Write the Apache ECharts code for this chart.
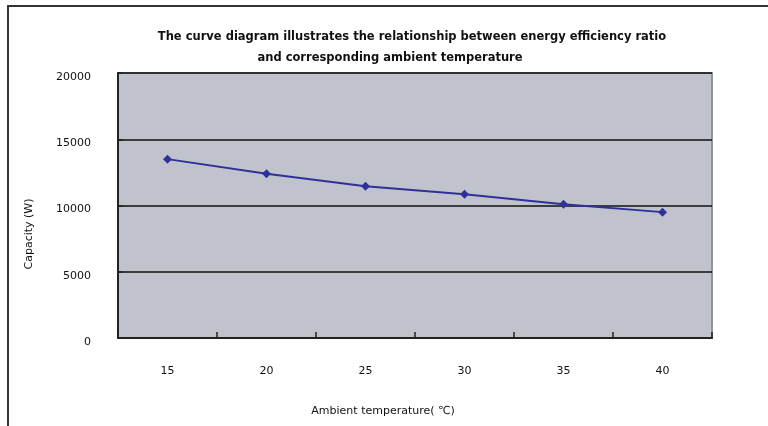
<!DOCTYPE html>
<html><head><meta charset="utf-8">
<script src="https://cdn.jsdelivr.net/npm/echarts@6/dist/echarts.min.js"></script>
<style>html,body{margin:0;padding:0;background:#fff}#c{width:768px;height:426px}</style>
</head><body><div id="c"></div>
<script>
const categories = ['15', '20', '25', '30', '35', '40'];
const capacity = [13500, 12400, 11450, 10850, 10100, 9500];
const yTicks = [0, 5000, 10000, 15000, 20000];
const titleLine1 = 'The curve diagram illustrates the relationship between energy efficiency ratio';
const titleLine2 = 'and corresponding ambient temperature';
const xName = 'Ambient temperature( ℃)';
const yName = 'Capacity (W)';

const titleStyle = {fontFamily: 'DejaVu Sans', fontSize: 11.5, fontWeight: 'bold', color: '#111'};
const chart = echarts.init(document.getElementById('c'), null, {renderer: 'canvas'});
chart.setOption({
  animation: false,
  backgroundColor: '#ffffff',
  title: [
    {text: titleLine1, left: 412, top: 31, textAlign: 'center', padding: 0, textStyle: titleStyle},
    {text: titleLine2, left: 390, top: 52, textAlign: 'center', padding: 0, textStyle: titleStyle}
  ],
  graphic: [
    {type: 'polyline', shape: {points: [[8, 426], [8, 6], [768, 6]]}, style: {stroke: '#333', lineWidth: 2, fill: null}},
    {type: 'text', x: 383, y: 411, style: {text: xName, font: '11px "DejaVu Sans"', fill: '#111', align: 'center', verticalAlign: 'middle'}},
    {type: 'text', x: 29, y: 234, rotation: Math.PI / 2, style: {text: yName, font: '11px "DejaVu Sans"', fill: '#111', align: 'center', verticalAlign: 'middle'}}
  ],
  grid: {left: 118, right: 56, top: 73, bottom: 88, show: true, backgroundColor: '#c0c3cc', borderColor: '#8e939c', borderWidth: 2},
  xAxis: {
    type: 'category', data: categories, boundaryGap: true,
    axisLine: {show: true, lineStyle: {color: '#222', width: 2}},
    axisTick: {show: true, inside: true, length: 6, alignWithLabel: false, lineStyle: {color: '#222', width: 1.5}},
    axisLabel: {margin: 28, fontFamily: 'DejaVu Sans', fontSize: 11, color: '#111'},
    splitLine: {show: false}
  },
  yAxis: {
    type: 'value', min: yTicks[0], max: yTicks[yTicks.length - 1], interval: 5000,
    axisLine: {show: true, lineStyle: {color: '#222', width: 2}},
    axisTick: {show: true, inside: true, length: 5, lineStyle: {color: '#222', width: 1.5}},
    axisLabel: {margin: 27, verticalAlign: 'top', lineHeight: 8, fontFamily: 'DejaVu Sans', fontSize: 11, color: '#111', formatter: v => String(v)},
    splitLine: {show: true, lineStyle: {color: '#111', width: 1.5}}
  },
  series: [{
    type: 'line', data: capacity,
    symbol: 'diamond', symbolSize: 9,
    lineStyle: {color: '#30309a', width: 2},
    itemStyle: {color: '#30309a'}
  }]
});
</script></body></html>
